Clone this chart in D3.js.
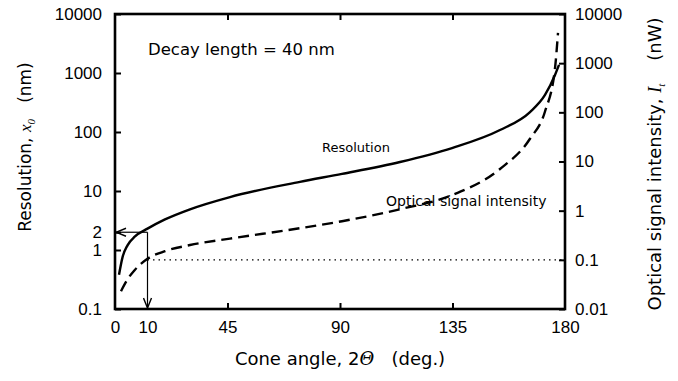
<!DOCTYPE html>
<html>
<head>
<meta charset="utf-8">
<script src="https://cdn.jsdelivr.net/npm/d3@7"></script>
<style>
  body { margin: 0; background: #fff; }
  svg { font-family: "DejaVu Sans", sans-serif; }
</style>
</head>
<body>
<svg width="678" height="381"></svg>
<script>
// values
const angleRes   = [1.6, 3, 5, 8, 13, 20, 30, 46, 74, 90.8, 114, 134.8, 154, 166, 172, 176, 177.6];
const resolution = [0.38, 0.75, 1.2, 1.7, 2.3, 3.3, 4.9, 7.9, 14.3, 19.5, 31, 53.5, 108, 218, 424, 925, 1370];
const angleInt   = [2.4, 5, 8, 13, 20, 30, 46, 74, 90.8, 114, 134.8, 154, 166, 172, 176, 177.2];
const intensity  = [0.023, 0.04, 0.063, 0.105, 0.15, 0.2, 0.27, 0.44, 0.61, 1.07, 2.07, 7.05, 29, 104, 790, 4120];

const xTicks = [0, 13, 45, 90, 135, 180];
const xTickLabels = ["0", "10", "45", "90", "135", "180"];
const leftTicks = [0.1, 1, 2, 10, 100, 1000, 10000];
const rightTicks = [0.01, 0.1, 1, 10, 100, 1000, 10000];

const markAngle = 13;       // where the arrows are drawn
const markRes = 2;          // resolution read at that angle
const floorIntensity = 0.1; // dotted line

const svg = d3.select("svg");
const pLeft = 115, pRight = 565, pTop = 14, pBottom = 309;

const x = d3.scaleLinear().domain([0, 180]).range([pLeft, pRight]);
const yL = d3.scaleLog().domain([0.1, 10000]).range([pBottom, pTop]);
const yR = d3.scaleLog().domain([0.01, 10000]).range([pBottom, pTop]);

//Arrow marker
svg.append("defs").append("marker")
   .attr("id", "arr")
   .attr("viewBox", "0 0 12 10")
   .attr("refX", 11).attr("refY", 5)
   .attr("markerWidth", 12).attr("markerHeight", 10)
   .attr("markerUnits", "userSpaceOnUse")
   .attr("orient", "auto")
   .append("path")
   .attr("d", "M1,1 L11,5 L1,9")
   .attr("fill", "none")
   .attr("stroke", "#000")
   .attr("stroke-width", 1.4);

//Axes
const fmt = d => String(d);
const axL = svg.append("g")
   .attr("transform", `translate(${pLeft},0)`)
   .call(d3.axisLeft(yL).tickValues(leftTicks).tickFormat(fmt).tickSize(-6).tickPadding(13));
const axR = svg.append("g")
   .attr("transform", `translate(${pRight},0)`)
   .call(d3.axisRight(yR).tickValues(rightTicks).tickFormat(fmt).tickSize(-6).tickPadding(10));
const axB = svg.append("g")
   .attr("transform", `translate(0,${pBottom})`)
   .call(d3.axisBottom(x).tickValues(xTicks).tickFormat((d, i) => xTickLabels[i]).tickSize(-6).tickPadding(12));
const axT = svg.append("g")
   .attr("transform", `translate(0,${pTop})`)
   .call(d3.axisTop(x).tickValues([45, 90, 135]).tickFormat("").tickSize(-6));

[axL, axR, axB, axT].forEach(g => {
  g.select(".domain").remove();
  g.selectAll(".tick line").attr("stroke", "#000").attr("stroke-width", 2);
  g.selectAll("text").attr("font-size", 17).attr("fill", "#000");
});
axB.selectAll(".tick").filter(d => d === 0 || d === 13 || d === 180).select("line").remove();

//Frame
svg.append("rect")
   .attr("x", pLeft).attr("y", pTop)
   .attr("width", pRight - pLeft).attr("height", pBottom - pTop)
   .attr("fill", "none").attr("stroke", "#000").attr("stroke-width", 2.6);

//Curves
const resData = angleRes.map((a, i) => [a, resolution[i]]);
const intData = angleInt.map((a, i) => [a, intensity[i]]);

svg.append("path")
   .datum(resData)
   .attr("fill", "none").attr("stroke", "#000").attr("stroke-width", 2.4)
   .attr("d", d3.line().x(d => x(d[0])).y(d => yL(d[1])).curve(d3.curveMonotoneX));

svg.append("path")
   .datum(intData)
   .attr("fill", "none").attr("stroke", "#000").attr("stroke-width", 2.4)
   .attr("stroke-dasharray", "11,6")
   .attr("d", d3.line().x(d => x(d[0])).y(d => yR(d[1])).curve(d3.curveMonotoneX));

//Dotted line at 0.1 nW
svg.append("line")
   .attr("x1", x(markAngle)).attr("x2", pRight)
   .attr("y1", yR(floorIntensity)).attr("y2", yR(floorIntensity))
   .attr("stroke", "#000").attr("stroke-width", 1.4)
   .attr("stroke-dasharray", "1.5,4");

//Arrows
svg.append("line")
   .attr("x1", x(markAngle)).attr("y1", yL(markRes))
   .attr("x2", pLeft + 1).attr("y2", yL(markRes))
   .attr("stroke", "#000").attr("stroke-width", 1.2)
   .attr("marker-end", "url(#arr)");
svg.append("line")
   .attr("x1", x(markAngle)).attr("y1", yL(markRes))
   .attr("x2", x(markAngle)).attr("y2", pBottom - 1)
   .attr("stroke", "#000").attr("stroke-width", 1.2)
   .attr("marker-end", "url(#arr)");

//Labels
svg.append("text")
   .attr("x", 148).attr("y", 55)
   .attr("font-size", 16.5)
   .text("Decay length = 40 nm");

svg.append("text")
   .attr("x", 322).attr("y", 152)
   .attr("font-size", 13)
   .text("Resolution");

svg.append("text")
   .attr("x", 386).attr("y", 206)
   .attr("font-size", 14)
   .text("Optical signal intensity");

const xt = svg.append("text")
   .attr("x", x(90)).attr("y", 365)
   .attr("text-anchor", "middle")
   .attr("font-size", 18);
xt.append("tspan").text("Cone angle, 2");
xt.append("tspan").attr("font-style", "italic").attr("font-family", "DejaVu Serif").text("\u0398");
xt.append("tspan").text("\u00a0\u00a0\u00a0(deg.)");

const lt = svg.append("text")
   .attr("transform", "translate(31,147) rotate(-90)")
   .attr("text-anchor", "middle")
   .attr("font-size", 17);
lt.append("tspan").text("Resolution, ");
lt.append("tspan").attr("font-style", "italic").attr("font-family", "Liberation Serif").text("x");
lt.append("tspan").attr("font-style", "italic").attr("font-family", "Liberation Serif").attr("font-size", 11).attr("dy", 4).text("0");
lt.append("tspan").attr("dy", -4).text("\u00a0\u00a0\u00a0(nm)");

const rt = svg.append("text")
   .attr("transform", "translate(661,164) rotate(-90)")
   .attr("text-anchor", "middle")
   .attr("font-size", 18);
rt.append("tspan").text("Optical signal intensity, ");
rt.append("tspan").attr("font-style", "italic").attr("font-family", "Liberation Serif").text("I");
rt.append("tspan").attr("font-style", "italic").attr("font-family", "Liberation Serif").attr("font-size", 11).attr("dy", 4).text("t");
rt.append("tspan").attr("dy", -4).text("\u00a0\u00a0\u00a0\u00a0(nW)");
</script>
</body>
</html>
